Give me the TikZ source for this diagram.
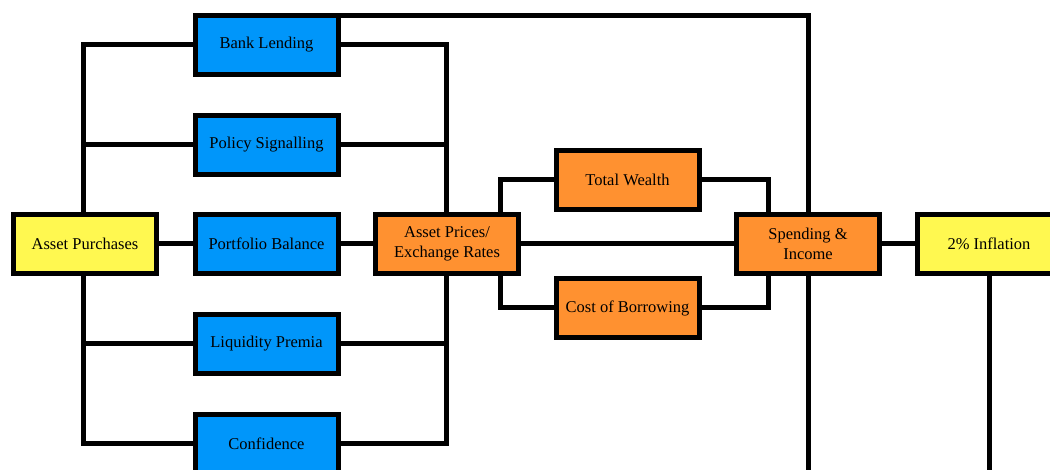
\documentclass[tikz,border=0pt]{standalone}
\usepackage{fontspec}
\setmainfont{Liberation Serif}
\usetikzlibrary{calc, backgrounds}
\tikzset{>=latex}
\definecolor{myblue1}{RGB}{0, 150, 250}
\definecolor{myorange1}{RGB}{255, 145, 48}
\definecolor{myyellow1}{RGB}{255, 248, 80}

\begin{document}
\begin{tikzpicture}[
    x = 1pt, y = 1pt,
    n0/.style = {draw, line width = 5pt, outer sep = 0pt, minimum width = 143pt, minimum height = 59pt, inner sep = 2pt, align = center, font = \fontsize{16.5}{20}\selectfont},
    nb/.style = {n0, fill = myblue1},
    no/.style = {n0, fill = myorange1},
    ny/.style = {n0, fill = myyellow1},
    d0/.style = {line width = 5pt},
]
\useasboundingbox (0,0) rectangle (1050,470);
\clip (0,0) rectangle (1050,470);

\node[ny] (purch)  at (85, 226)    {Asset Purchases};
\node[nb] (bank)   at (266.5, 425) {Bank Lending};
\node[nb] (policy) at (266.5, 325) {Policy Signalling};
\node[nb] (portf)  at (266.5, 226) {Portfolio Balance};
\node[nb] (liq)    at (266.5, 126) {Liquidity Premia};
\node[nb] (conf)   at (266.5, 26)  {Confidence};
\node[no] (prices) at (447, 226)   {Asset Prices/\\Exchange Rates};
\node[no] (wealth) at (627.5, 290) {Total Wealth};
\node[no] (borrow) at (627.5, 162) {Cost of Borrowing};
\node[no] (spend)  at (808, 226)   {Spending \&\\Income};
\node[ny] (infl)   at (989, 226)   {2\% Inflation};

\coordinate (lbus) at (83, 0);
\coordinate (rbus) at (446, 0);
\coordinate (lfork) at (500, 0);
\coordinate (rfork) at (768, 0);
\coordinate (bot) at (0, 0);

\begin{pgfonlayer}{background}
% channels
\draw[d0] (bank.west) -- (bank.west -| lbus) -- (conf.west -| lbus) -- (conf.west);
\draw[d0] (policy.west) -- (policy.west -| lbus);
\draw[d0] (liq.west) -- (liq.west -| lbus);
\draw[d0] (purch) -- (portf);
\draw[d0] (bank.east) -- (bank.east -| rbus) -- (conf.east -| rbus) -- (conf.east);
\draw[d0] (policy.east) -- (policy.east -| rbus);
\draw[d0] (liq.east) -- (liq.east -| rbus);
\draw[d0] (portf) -- (prices);
% to spending
\draw[d0] (prices.north -| lfork) |- (wealth.west);
\draw[d0] (prices.south -| lfork) |- (borrow.west);
\draw[d0] (wealth.east) -| (spend.north -| rfork);
\draw[d0] (borrow.east) -| (spend.south -| rfork);
\draw[d0] (prices) -- (spend);
\draw[d0] (bank.north east) -| (spend.north);
\draw[d0] (spend) -- (infl);
\draw[d0] (spend.south) -- (spend.south |- bot);
\draw[d0] (infl.south) -- (infl.south |- bot);
\end{pgfonlayer}
\end{tikzpicture}
\end{document}
